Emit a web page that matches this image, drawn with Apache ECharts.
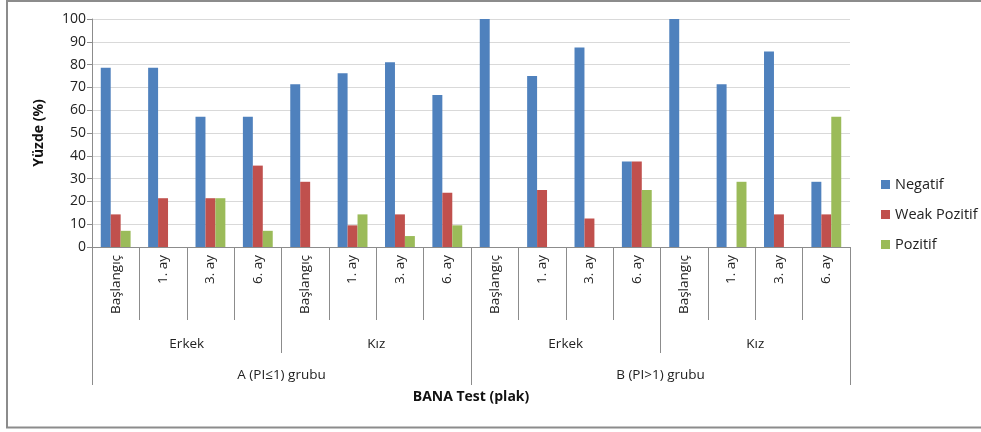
<!DOCTYPE html>
<html>
<head>
<meta charset="utf-8">
<script src="https://cdn.jsdelivr.net/npm/echarts@6/dist/echarts.min.js"></script>
<style>html,body{margin:0;padding:0;background:#fff}#c{width:981px;height:432px}</style>
</head>
<body>
<div id="c"></div>
<script>
const categories = ['Başlangıç','1. ay','3. ay','6. ay','Başlangıç','1. ay','3. ay','6. ay','Başlangıç','1. ay','3. ay','6. ay','Başlangıç','1. ay','3. ay','6. ay'];
const sexLabels = ['Erkek','Kız','Erkek','Kız'];
const groupLabels = ['A (PI≤1) grubu','B (PI>1) grubu'];
const negatif = [78.6,78.6,57.1,57.1,71.4,76.2,81.0,66.7,100,75,87.5,37.5,100,71.4,85.7,28.6];
const weakPozitif = [14.3,21.4,21.4,35.7,28.6,9.5,14.3,23.8,0,25,12.5,37.5,0,0,14.3,14.3];
const pozitif = [7.1,0,21.4,7.1,0,14.3,4.8,9.5,0,0,0,25,0,28.6,0,57.1];
const yTicks = {min:0,max:100,interval:10};

const FONT = '"Open Sans", "Noto Sans", sans-serif';
const LC = '#8c8c8c';
const chart = echarts.init(document.getElementById('c'), null, {renderer:'canvas'});
const barStyle = (c)=>({type:'bar', barGap:'0%', barCategoryGap:'37%', itemStyle:{color:c}});
chart.setOption({
  animation:false,
  textStyle:{fontFamily:FONT},
  grid:{left:92,right:131,top:19,bottom:185,containLabel:false},
  legend:{
    orient:'vertical', left:876, top:172, icon:'rect', itemWidth:9, itemHeight:9, itemGap:15,
    textStyle:{fontFamily:FONT,fontSize:14.5,color:'#222'},
    data:['Negatif','Weak Pozitif','Pozitif']
  },
  xAxis:[
    {type:'category', data:categories, position:'bottom',
     axisLine:{lineStyle:{color:LC}},
     axisTick:{show:true, length:73, interval:0, lineStyle:{color:LC}},
     axisLabel:{rotate:90, interval:0, margin:8, fontSize:13.5, color:'#222', fontFamily:FONT}},
    {type:'category', data:sexLabels, position:'bottom', gridIndex:0,
     axisLine:{show:false},
     axisTick:{show:true, length:106, interval:0, lineStyle:{color:LC}},
     axisLabel:{interval:0, margin:90, fontSize:13.5, color:'#222', fontFamily:FONT}},
    {type:'category', data:groupLabels, position:'bottom', gridIndex:0,
     name:'BANA Test (plak)', nameLocation:'middle', nameGap:143,
     nameTextStyle:{fontWeight:'bold', fontSize:14, color:'#111', fontFamily:FONT},
     axisLine:{show:false},
     axisTick:{show:true, length:138, interval:0, lineStyle:{color:LC}},
     axisLabel:{interval:0, margin:121, fontSize:13.5, color:'#222', fontFamily:FONT}}
  ],
  yAxis:{type:'value', min:yTicks.min, max:yTicks.max, interval:yTicks.interval,
    name:'Yüzde (%)', nameLocation:'middle', nameGap:46,
    nameTextStyle:{fontWeight:'bold', fontSize:14, color:'#111', fontFamily:FONT},
    axisLine:{show:true, lineStyle:{color:LC}},
    axisTick:{show:true, length:5, lineStyle:{color:LC}},
    axisLabel:{fontSize:14, color:'#222', margin:6, fontFamily:FONT},
    splitLine:{lineStyle:{color:'#d9d9d9'}}},
  series:[
    Object.assign(barStyle('#4f81bd'),{name:'Negatif', data:negatif}),
    Object.assign(barStyle('#c0504d'),{name:'Weak Pozitif', data:weakPozitif}),
    Object.assign(barStyle('#9bbb59'),{name:'Pozitif', data:pozitif})
  ],
  graphic:[
    {type:'line', shape:{x1:6, y1:1, x2:981, y2:1}, style:{stroke:'#8c8c8c', lineWidth:2}},
    {type:'line', shape:{x1:7, y1:0, x2:7, y2:428}, style:{stroke:'#8c8c8c', lineWidth:2}},
    {type:'line', shape:{x1:6, y1:427.5, x2:981, y2:427.5}, style:{stroke:'#8c8c8c', lineWidth:2}}
  ]
});
</script>
</body>
</html>
